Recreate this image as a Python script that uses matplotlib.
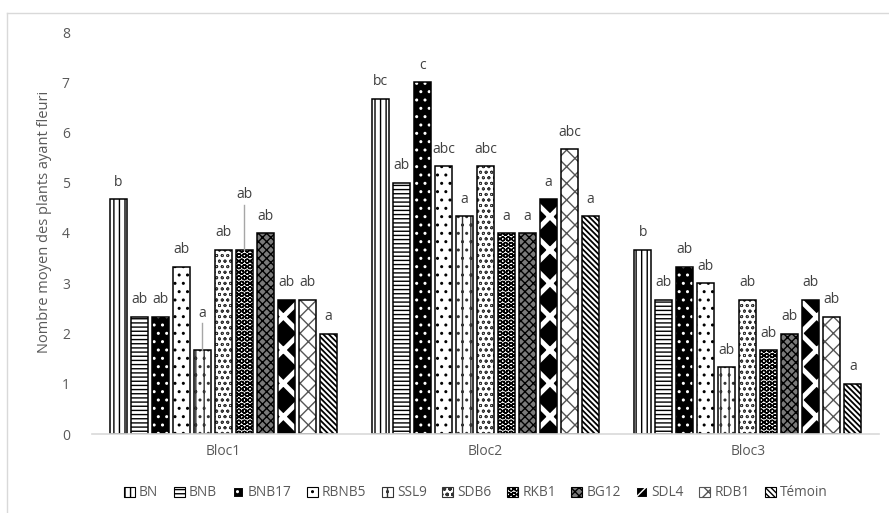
import matplotlib
matplotlib.use("Agg")
import matplotlib.pyplot as plt
from matplotlib.patches import Patch
from matplotlib import font_manager
import numpy as np

blocs = ["Bloc1", "Bloc2", "Bloc3"]
series = ["BN", "BNB", "BNB17", "RBNB5", "SSL9", "SDB6", "RKB1", "BG12", "SDL4", "RDB1", "Témoin"]
values = {
    "BN":     [4.67, 6.67, 3.67],
    "BNB":    [2.33, 5.00, 2.67],
    "BNB17":  [2.33, 7.00, 3.33],
    "RBNB5":  [3.33, 5.33, 3.00],
    "SSL9":   [1.67, 4.33, 1.33],
    "SDB6":   [3.67, 5.33, 2.67],
    "RKB1":   [3.67, 4.00, 1.67],
    "BG12":   [4.00, 4.00, 2.00],
    "SDL4":   [2.67, 4.67, 2.67],
    "RDB1":   [2.67, 5.67, 2.33],
    "Témoin": [2.00, 4.33, 1.00],
}
letters = {
    "BN":     ["b", "bc", "b"],
    "BNB":    ["ab", "ab", "ab"],
    "BNB17":  ["ab", "c", "ab"],
    "RBNB5":  ["ab", "abc", "ab"],
    "SSL9":   ["a", "a", "ab"],
    "SDB6":   ["ab", "abc", "ab"],
    "RKB1":   ["ab", "a", "ab"],
    "BG12":   ["ab", "a", "ab"],
    "SDL4":   ["ab", "a", "ab"],
    "RDB1":   ["ab", "abc", "ab"],
    "Témoin": ["a", "a", "a"],
}
yticks = [0, 1, 2, 3, 4, 5, 6, 7, 8]
ylabel = "Nombre moyen des plants ayant fleuri"

# style: (facecolor, hatchcolor, hatch, hatch linewidth)
styles = {
    "BN":     ("white", "black", "|||", 1.0),
    "BNB":    ("white", "black", "----", 1.0),
    "BNB17":  ("black", "white", "..", 1.0),
    "RBNB5":  ("white", "black", "..", 1.0),
    "SSL9":   ("white", "#333333", "||..", 1.0),
    "SDB6":   ("white", "#333333", "ooo", 0.6),
    "RKB1":   ("white", "black", "OOO", 1.0),
    "BG12":   ("#7a7a7a", "black", "xxxx", 1.0),
    "SDL4":   ("black", "white", "X", 3.5),
    "RDB1":   ("white", "#555555", "xx", 1.0),
    "Témoin": ("white", "black", "\\\\\\\\\\\\", 1.3),
}

avail = {f.name for f in font_manager.fontManager.ttflist}
main_font = "Open Sans" if "Open Sans" in avail else "DejaVu Sans"
plt.rcParams["font.family"] = [main_font, "DejaVu Sans"]

grey = "#595959"

fig = plt.figure(figsize=(8.89, 5.13), dpi=100)
ax = fig.add_axes([92 / 889, 1 - 434 / 513, (879 - 92) / 889, (434 - 32) / 513])

step = 0.080
width = 0.065
x0 = np.arange(len(blocs))
px_per_unit = (434 - 32) / 8.0

for i, s in enumerate(series):
    fc, hc, h, hlw = styles[s]
    xs = x0 + (i - 5) * step
    with plt.rc_context({"hatch.linewidth": hlw}):
        ax.bar(xs, values[s], width=width, color=fc, edgecolor=hc, hatch=h, linewidth=0)
    ax.bar(xs, values[s], width=width, fill=False, edgecolor="black", linewidth=1.1)
    for j in range(len(blocs)):
        v = values[s][j]
        off = 17 / px_per_unit
        if j == 0 and s == "SSL9":
            off = 37 / px_per_unit
        if j == 0 and s == "RKB1":
            off = 55 / px_per_unit
        if off > 20 / px_per_unit:
            ax.plot([xs[j], xs[j]], [v, v + off - 10 / px_per_unit], color="#a6a6a6", lw=1)
        ax.text(xs[j], v + off, letters[s][j], ha="center", va="center",
                fontsize=10, color="#404040")

ax.set_xlim(-0.5, 2.5)
ax.set_ylim(0, 8)
ax.set_yticks(yticks)
ax.set_xticks(x0)
ax.set_xticklabels(blocs)
ax.tick_params(axis="y", length=0, pad=16, labelsize=10, labelcolor=grey)
ax.tick_params(axis="x", length=0, pad=7, labelsize=10, labelcolor=grey)
for sp in ["top", "right", "left"]:
    ax.spines[sp].set_visible(False)
ax.spines["bottom"].set_color("#d9d9d9")
ax.spines["bottom"].set_linewidth(1.2)
ax.set_ylabel(ylabel, fontsize=10.5, color=grey)
ax.yaxis.set_label_coords(52 / 889, 1 - 222 / 513, transform=fig.transFigure)

# chart area border (left and top)
fig.add_artist(plt.Line2D([7 / 889, 7 / 889], [0, 1 - 13 / 513], color="#d9d9d9", lw=1, transform=fig.transFigure))
fig.add_artist(plt.Line2D([7 / 889, 1], [1 - 13 / 513, 1 - 13 / 513], color="#d9d9d9", lw=1, transform=fig.transFigure))

handles = []
for s in series:
    fc, hc, h, hlw = styles[s]
    with plt.rc_context({"hatch.linewidth": hlw}):
        handles.append(Patch(facecolor=fc, edgecolor=hc, hatch=h, linewidth=0.8))
leg = fig.legend(handles, series, loc="center", bbox_to_anchor=(476 / 889, 1 - 493 / 513),
                 ncol=len(series), frameon=False, handlelength=0.8, handleheight=0.8,
                 handletextpad=0.3, columnspacing=1.15,
                 prop={"family": main_font, "size": 9.8})
for t in leg.get_texts():
    t.set_color(grey)

fig.savefig("out.png", dpi=100)
